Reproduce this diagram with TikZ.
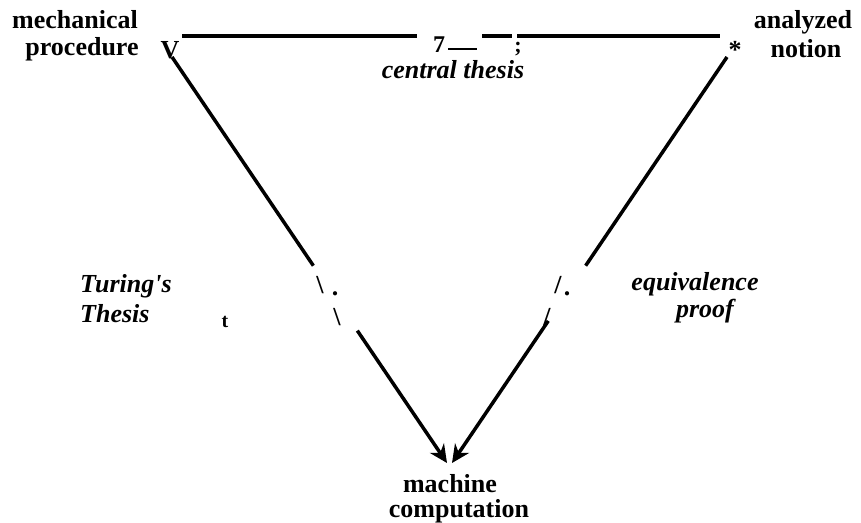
\documentclass[tikz,border=0pt]{standalone}
\usepackage{fontspec}
\setmainfont{Liberation Serif}
\usetikzlibrary{arrows.meta,calc}
\begin{document}
\begin{tikzpicture}[x=1pt,y=-1pt,
  txt/.style={font=\fontsize{26}{28}\selectfont\bfseries, inner sep=0, anchor=base},
  itxt/.style={font=\fontsize{26}{28}\selectfont\bfseries\itshape, inner sep=0, anchor=base},
  edge/.style={line width=3.5pt},
  arr/.style={line width=3.5pt, -{Stealth[length=18pt,width=17pt]}}]
\useasboundingbox (0,0) rectangle (861,522);
% labels
\node[txt] (mech) at (75,28) {mechanical};
\node[txt] (proc) at (82,55) {procedure};
\node[txt] (v) at (170,58) {V};
\node[txt] (anal) at (803,28) {analyzed};
\node[txt] (noti) at (806,57) {notion};
\node[txt] (star) at (735,58) {*};
\node[txt, font=\fontsize{24}{26}\selectfont\bfseries] (seven) at (439,52) {7};
\node[txt, font=\fontsize{22}{24}\selectfont\bfseries] (semi) at (518,52) {;};
\node[itxt] (central) at (453,78) {central thesis};
\node[itxt, anchor=base west] (turing) at (80,292) {Turing\textquotesingle s};
\node[itxt, anchor=base west] (thesis) at (80,322) {Thesis};
\node[txt, font=\fontsize{20}{22}\selectfont\bfseries] (t) at (225,327) {t};
\node[itxt] (equiv) at (695,290) {equivalence};
\node[itxt] (proof) at (705,317) {proof};
\node[txt] (mach) at (450,492) {machine};
\node[txt] (comp) at (459,517) {computation};
% stray marks
\node[txt] (bs1) at (320,293) {\textbackslash};
\node[txt] (dot1) at (335,295) {.};
\node[txt] (bs2) at (337,325) {\textbackslash};
\node[txt] (sl1) at (558,293) {/};
\node[txt] (dot2) at (567,295) {.};
\node[txt] (sl2) at (547,325) {/};
% corners
\coordinate (tl) at (182,36);
\coordinate (tr) at (720,36);
\coordinate (lc) at (172,57);
\coordinate (rc) at (727,57);
\coordinate (tipL) at (447,463);
\coordinate (tipR) at (452,463);
% top line with gaps
\draw[edge] (tl) -- ($(tl)!0.437!(tr)$);
\draw[edge] ($(tl)!0.558!(tr)$) -- ($(tl)!0.613!(tr)$);
\draw[edge] ($(tl)!0.623!(tr)$) -- (tr);
\draw[line width=2pt] ($(seven.base east)+(3,-3)$) -- ++(29,0);
% diagonals
\draw[edge] (lc) -- ($(lc)!0.514!(tipL)$);
\draw[arr] ($(lc)!0.674!(tipL)$) -- (tipL);
\draw[edge] (rc) -- ($(rc)!0.514!(tipR)$);
\draw[arr] ($(rc)!0.65!(tipR)$) -- (tipR);
\end{tikzpicture}
\end{document}
